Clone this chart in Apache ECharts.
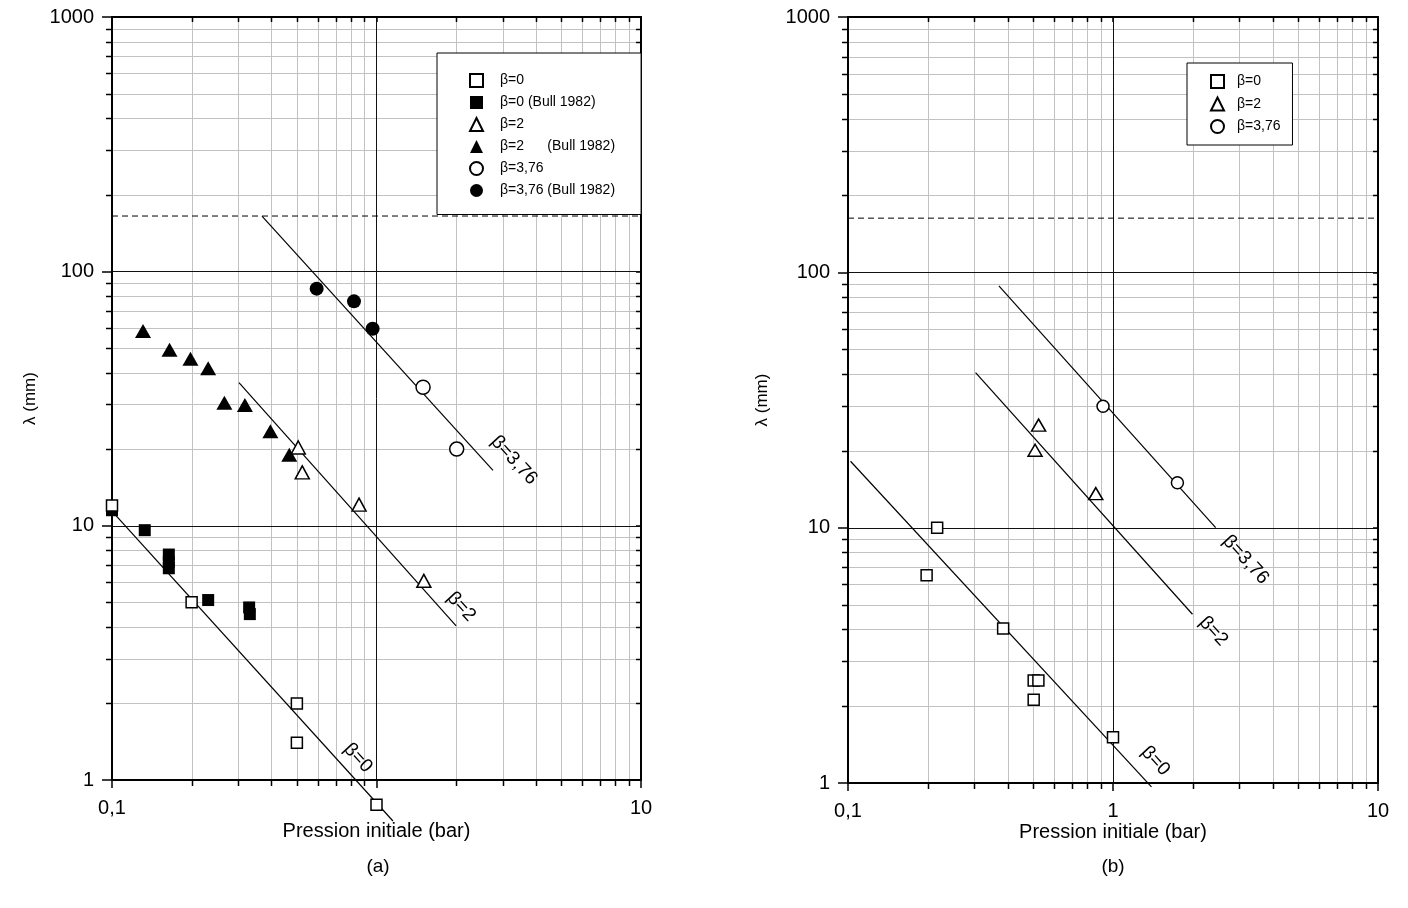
<!DOCTYPE html>
<html><head><meta charset="utf-8">
<script src="https://cdn.jsdelivr.net/npm/echarts@6/dist/echarts.min.js"></script>
<style>html,body{margin:0;padding:0;background:#fff}#c{width:1408px;height:908px}</style>
</head><body><div id="c"></div><script>
// ---------- tick values ----------
const xMinor = [0.2,0.3,0.4,0.5,0.6,0.7,0.8,0.9,2,3,4,5,6,7,8,9];
const yMinor = [2,3,4,5,6,7,8,9,20,30,40,50,60,70,80,90,200,300,400,500,600,700,800,900];
const xMajor = [1];
const yMajor = [10,100];

// ---------- chart (a) data ----------
const a_b0_p = [0.1, 0.2, 0.5, 0.5, 1.0];
const a_b0_l = [12, 5.0, 2.0, 1.4, 0.8];
const a_b0bull_p = [0.1, 0.133, 0.164, 0.164, 0.164, 0.231, 0.33, 0.332];
const a_b0bull_l = [11.5, 9.6, 7.7, 7.2, 6.8, 5.1, 4.77, 4.49];
const a_b2_p = [0.506, 0.524, 0.859, 1.51];
const a_b2_l = [20.3, 16.2, 12.1, 6.07];
const a_b2bull_p = [0.131, 0.165, 0.198, 0.231, 0.266, 0.318, 0.397, 0.468];
const a_b2bull_l = [58.2, 49.2, 45.3, 41.6, 30.4, 29.8, 23.5, 19.0];
const a_b376_p = [1.50, 2.01];
const a_b376_l = [35.0, 20.0];
const a_b376bull_p = [0.594, 0.822, 0.967];
const a_b376bull_l = [85.5, 76.2, 59.5];
const a_fit_b0 = [[0.0885, 13.1], [1.154, 0.69]];
const a_fit_b2 = [[0.302, 36.5], [2.0, 4.04]];
const a_fit_b376 = [[0.369, 164.7], [2.757, 16.5]];
const a_dash = 165;

// ---------- chart (b) data ----------
const b_b0_p = [0.217, 0.198, 0.385, 0.502, 0.523, 0.502, 1.0];
const b_b0_l = [10.0, 6.51, 4.03, 2.52, 2.52, 2.12, 1.51];
const b_b2_p = [0.524, 0.508, 0.861];
const b_b2_l = [25.2, 20.1, 13.6];
const b_b376_p = [0.917, 1.75];
const b_b376_l = [29.9, 15.0];
const b_fit_b0 = [[0.1022, 18.2], [1.397, 0.965]];
const b_fit_b2 = [[0.303, 40.5], [1.995, 4.58]];
const b_fit_b376 = [[0.371, 88.5], [2.44, 10.0]];
const b_dash = 163;

const FONT = '"Liberation Sans", Arial, sans-serif';
const zip = (p, l) => p.map((v, i) => [v, l[i]]);
const fmt = v => String(+(+v).toPrecision(6)).replace('.', ',');
// in (a) the "1" tick label sits under the β=0 point at p=1 and is not visible
const fmtA = v => (Math.abs(v - 1) < 1e-9 ? '' : fmt(v));

function axesX(g, gap, formatter) {
  return [
    { type:'log', logBase:10, gridIndex:g, min:0.1, max:10, position:'bottom',
      axisLine:{show:true, lineStyle:{color:'#000', width:2}},
      axisTick:{show:true, length:8, lineStyle:{color:'#000', width:1.5}},
      axisLabel:{show:true, fontSize:20, color:'#000', margin:18, fontFamily:FONT, formatter},
      splitLine:{show:false}, minorTick:{show:false},
      name:'Pression initiale (bar)', nameLocation:'middle', nameGap:gap, nameMoveOverlap:false,
      nameTextStyle:{fontSize:20, color:'#000', fontFamily:FONT} },
    { type:'log', logBase:10, gridIndex:g, min:0.1, max:10, position:'top',
      axisLine:{show:true, lineStyle:{color:'#000', width:2}},
      axisTick:{show:true, inside:true, length:5, lineStyle:{color:'#000', width:1.5}},
      axisLabel:{show:false}, splitLine:{show:false} }
  ];
}
function axesY(g, gap) {
  return [
    { type:'log', logBase:10, gridIndex:g, min:1, max:1000, position:'left',
      axisLine:{show:true, lineStyle:{color:'#000', width:2}},
      axisTick:{show:true, length:10, lineStyle:{color:'#000', width:1.5}},
      axisLabel:{show:true, fontSize:20, color:'#000', margin:18, fontFamily:FONT, formatter:fmt},
      splitLine:{show:false},
      name:'λ (mm)', nameLocation:'middle', nameGap:gap, nameRotate:90, nameMoveOverlap:false,
      nameTextStyle:{fontSize:17, color:'#000', fontFamily:FONT} },
    { type:'log', logBase:10, gridIndex:g, min:1, max:1000, position:'right',
      axisLine:{show:true, lineStyle:{color:'#000', width:2}},
      axisTick:{show:true, inside:true, length:5, lineStyle:{color:'#000', width:1.5}},
      axisLabel:{show:false}, splitLine:{show:false} }
  ];
}

// custom series drawing the log grid (minor + major lines, minor ticks)
const gridItems = [].concat(
  xMinor.map(v => [1, v]), yMinor.map(v => [2, v]),
  xMajor.map(v => [3, v]), yMajor.map(v => [4, v]));
function gridRender(params, api) {
  const cs = params.coordSys;
  const kind = api.value(0), v = api.value(1);
  const minorC = '#c2c2c2', majorC = '#111';
  const L = (x1, y1, x2, y2, c, w) => ({type:'line', shape:{x1, y1, x2, y2}, style:{stroke:c, lineWidth:w}});
  const ch = [];
  if (kind === 1 || kind === 3) {
    const px = Math.round(api.coord([v, 10])[0]) + 0.5;
    ch.push(L(px, cs.y + 1, px, cs.y + cs.height - 1, kind === 1 ? minorC : majorC, 1));
    if (kind === 1) {
      ch.push(L(px, cs.y + cs.height, px, cs.y + cs.height + 6, '#000', 1.5));
      ch.push(L(px, cs.y, px, cs.y + 5, '#000', 1.5));
    }
  } else {
    const py = Math.round(api.coord([1, v])[1]) + 0.5;
    ch.push(L(cs.x + 1, py, cs.x + cs.width - 1, py, kind === 2 ? minorC : majorC, 1));
    if (kind === 2) {
      ch.push(L(cs.x - 6, py, cs.x, py, '#000', 1.5));
      ch.push(L(cs.x + cs.width - 5, py, cs.x + cs.width, py, '#000', 1.5));
    }
  }
  return {type:'group', children:ch};
}

const openStyle = {color:'#fff', borderColor:'#000', borderWidth:1.5, opacity:1};
const fillStyle = {color:'#000', borderColor:'#000', borderWidth:0, opacity:1};

function scatter(name, g, data, symbol, size, style) {
  return {type:'scatter', name, xAxisIndex:g*2, yAxisIndex:g*2, data, symbol, symbolSize:size,
    itemStyle:style, clip:false, z:5, silent:true};
}
function fitLine(name, g, data) {
  return {type:'line', name, xAxisIndex:g*2, yAxisIndex:g*2, data, symbol:'none', clip:false,
    lineStyle:{color:'#000', width:1.2}, z:4, silent:true};
}
function dashLine(name, g, v) {
  return {type:'line', name, xAxisIndex:g*2, yAxisIndex:g*2, data:[[0.1, v], [10, v]], symbol:'none',
    lineStyle:{color:'#000', width:1, type:[6, 4]}, z:4, silent:true};
}

const legendA = ['β=0', 'β=0 (Bull 1982)', 'β=2', 'β=2      (Bull 1982)', 'β=3,76', 'β=3,76 (Bull 1982)'];
const legendB = ['β=0', 'β=2', 'β=3,76'];

const chart = echarts.init(document.getElementById('c'), null, {renderer:'canvas'});
const option = {
  animation:false,
  backgroundColor:'#fff',
  textStyle:{fontFamily:FONT},
  title:[
    {text:'(a)', left:373, top:852, textAlign:'center', textStyle:{fontSize:19, fontWeight:'normal', color:'#000', fontFamily:FONT}},
    {text:'(b)', left:1108, top:852, textAlign:'center', textStyle:{fontSize:19, fontWeight:'normal', color:'#000', fontFamily:FONT}}
  ],
  grid:[
    {left:112, top:17, width:529, height:763},
    {left:848, top:17, width:530, height:766}
  ],
  xAxis:[].concat(axesX(0, 41, fmtA), axesX(1, 39, fmt)),
  yAxis:[].concat(axesY(0, 73), axesY(1, 77)),
  legend:[
    {data:legendA, orient:'vertical', left:437, top:53, itemWidth:13, itemHeight:13, itemGap:7.5,
     padding:[20, 26, 17, 32], borderColor:'#000', borderWidth:1, backgroundColor:'#fff', selectedMode:false,
     textStyle:{fontSize:14, color:'#000', fontFamily:FONT, padding:[0, 0, 0, 12]}, z:10},
    {data:legendB, orient:'vertical', left:1187, top:63, itemWidth:13, itemHeight:13, itemGap:7.5,
     padding:[11, 12, 11, 23], borderColor:'#000', borderWidth:1, backgroundColor:'#fff', selectedMode:false,
     textStyle:{fontSize:14, color:'#000', fontFamily:FONT, padding:[0, 0, 0, 8]}, z:10}
  ],
  series:[
    {type:'custom', name:'gridA', xAxisIndex:0, yAxisIndex:0, data:gridItems, renderItem:gridRender, z:1, silent:true},
    {type:'custom', name:'gridB', xAxisIndex:2, yAxisIndex:2, data:gridItems, renderItem:gridRender, z:1, silent:true},
    dashLine('dashA', 0, a_dash),
    dashLine('dashB', 1, b_dash),
    fitLine('fitA0', 0, a_fit_b0), fitLine('fitA2', 0, a_fit_b2), fitLine('fitA3', 0, a_fit_b376),
    fitLine('fitB0', 1, b_fit_b0), fitLine('fitB2', 1, b_fit_b2), fitLine('fitB3', 1, b_fit_b376),
    scatter('β=0 (Bull 1982)', 0, zip(a_b0bull_p, a_b0bull_l), 'rect', 12, fillStyle),
    scatter('β=0', 0, zip(a_b0_p, a_b0_l), 'rect', 11, openStyle),
    scatter('β=2      (Bull 1982)', 0, zip(a_b2bull_p, a_b2bull_l), 'triangle', [16, 14], fillStyle),
    scatter('β=2', 0, zip(a_b2_p, a_b2_l), 'triangle', [14, 13], openStyle),
    scatter('β=3,76 (Bull 1982)', 0, zip(a_b376bull_p, a_b376bull_l), 'circle', 14, fillStyle),
    scatter('β=3,76', 0, zip(a_b376_p, a_b376_l), 'circle', 14, openStyle),
    scatter('β=0', 1, zip(b_b0_p, b_b0_l), 'rect', 11, openStyle),
    scatter('β=2', 1, zip(b_b2_p, b_b2_l), 'triangle', [14, 12], openStyle),
    scatter('β=3,76', 1, zip(b_b376_p, b_b376_l), 'circle', 12, openStyle)
  ]
};
chart.setOption(option);

// labels of the fitted lines, anchored to each line's end point
const fitLabels = [
  {g:0, line:a_fit_b0, text:'β=0', dx:-35, dy:-63},
  {g:0, line:a_fit_b2, text:'β=2', dx:5, dy:-19},
  {g:0, line:a_fit_b376, text:'β=3,76', dx:21, dy:-10},
  {g:1, line:b_fit_b0, text:'β=0', dx:4, dy:-26},
  {g:1, line:b_fit_b2, text:'β=2', dx:21, dy:17},
  {g:1, line:b_fit_b376, text:'β=3,76', dx:30, dy:32}
];
const graphic = fitLabels.map(f => {
  const p = chart.convertToPixel({xAxisIndex:f.g*2, yAxisIndex:f.g*2}, f.line[1]);
  return {type:'text', x:p[0] + f.dx, y:p[1] + f.dy, rotation:-0.83, z:20,
    style:{text:f.text, fontSize:19, fontFamily:FONT, fill:'#000', align:'center', verticalAlign:'middle'}};
});
chart.setOption({graphic});
</script></body></html>
